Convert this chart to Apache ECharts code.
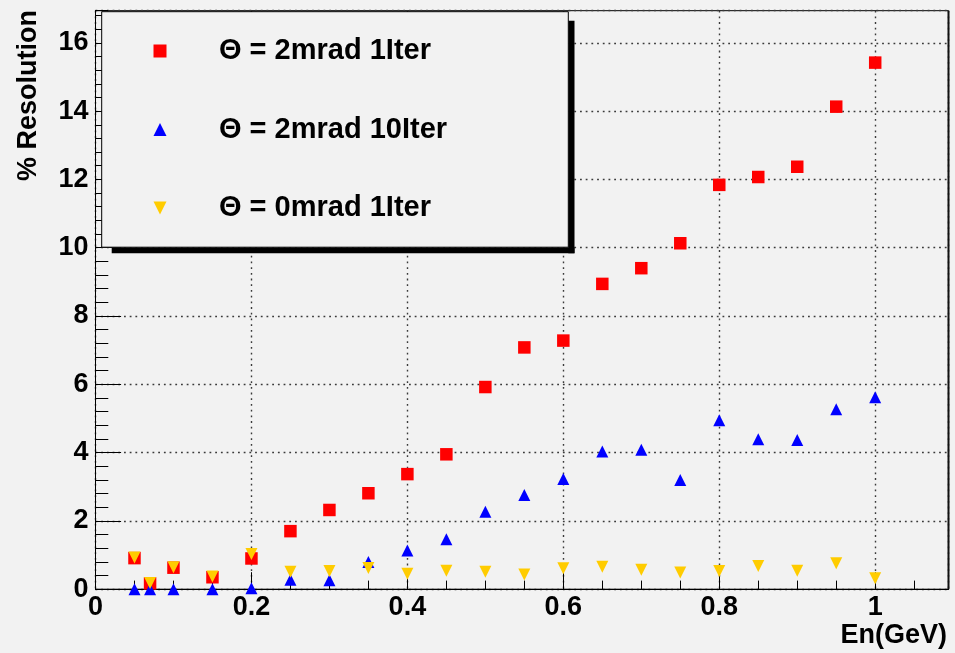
<!DOCTYPE html>
<html>
<head>
<meta charset="utf-8">
<script src="https://cdn.jsdelivr.net/npm/echarts@6/dist/echarts.min.js"></script>
<style>
  html, body { margin: 0; padding: 0; background: #f2f2f2; }
  #chart { width: 955px; height: 653px; }
</style>
</head>
<body>
<div id="chart"></div>
<script>
// Energy points (GeV)
const energies = [0.05, 0.07, 0.1, 0.15, 0.2, 0.25, 0.3, 0.35, 0.4, 0.45, 0.5,
                  0.55, 0.6, 0.65, 0.7, 0.75, 0.8, 0.85, 0.9, 0.95, 1.0];

// % resolution per configuration
const res2mrad1Iter  = [0.91, 0.17, 0.63, 0.35, 0.90, 1.70, 2.32, 2.81, 3.37, 3.95, 5.92,
                        7.08, 7.28, 8.94, 9.40, 10.13, 11.84, 12.07, 12.37, 14.13, 15.42];
const res2mrad10Iter = [0.00, 0.00, 0.00, 0.00, 0.03, 0.28, 0.26, 0.80, 1.13, 1.46, 2.27,
                        2.76, 3.23, 4.03, 4.08, 3.20, 4.95, 4.39, 4.37, 5.27, 5.62];
const res0mrad1Iter  = [0.93, 0.18, 0.64, 0.37, 1.03, 0.51, 0.53, 0.62, 0.45, 0.54, 0.51,
                        0.43, 0.61, 0.66, 0.57, 0.49, 0.53, 0.68, 0.54, 0.76, 0.32];

const seriesNames = ['\u0398 = 2mrad 1Iter', '\u0398 = 2mrad 10Iter', '\u0398 = 0mrad 1Iter'];

// Axis ranges and tick steps
const xRange = [0, 1.094];
const yRange = [0, 16.94];
const xMajor = 0.2, xMinor = 0.05;
const yMajor = 2, yMinor = 0.4;

const FONT = '"Liberation Sans", Arial, Helvetica, sans-serif';
const toPairs = ys => energies.map((x, i) => [x, ys[i]]);

// downward-pointing triangle used for the 0 mrad set
const DOWN_TRIANGLE = 'path://M0,0 L2,0 L1,2 Z';

const chart = echarts.init(document.getElementById('chart'), null, { renderer: 'canvas' });

const grid = { left: 95.5, right: 6.5, top: 10.7, bottom: 63.8 };
const plotRight = 955 - grid.right;
const plotBottom = 653 - grid.bottom;

const dotted = { color: '#3a3a3a', width: 1.4, type: [1.8, 3.9] };
const labelStyle = { color: '#000', fontFamily: FONT, fontWeight: 'bold', fontSize: 27 };

const option = {
  backgroundColor: '#f2f2f2',
  animation: false,
  grid: Object.assign({ show: true, borderColor: '#000', borderWidth: 1, backgroundColor: 'transparent' }, grid),
  xAxis: [
    {
      type: 'value', position: 'bottom', min: xRange[0], max: xRange[1], interval: xMajor,
      axisLine: { show: true, onZero: false, lineStyle: { color: '#000', width: 1 } },
      axisTick: { show: true, inside: true, length: 17, lineStyle: { color: '#000', width: 1 } },
      axisLabel: Object.assign({ margin: 5, showMaxLabel: false }, labelStyle),
      splitLine: { show: true, lineStyle: dotted }
    },
    {
      type: 'value', position: 'bottom', min: xRange[0], max: xRange[1], interval: xMinor,
      axisLine: { show: false, onZero: false },
      axisTick: { show: true, inside: true, length: 8.6, lineStyle: { color: '#000', width: 1 } },
      axisLabel: { show: false },
      splitLine: { show: false }
    }
  ],
  yAxis: [
    {
      type: 'value', position: 'left', min: yRange[0], max: yRange[1], interval: yMajor,
      axisLine: { show: true, onZero: false, lineStyle: { color: '#000', width: 1 } },
      axisTick: { show: true, inside: true, length: 25.6, lineStyle: { color: '#000', width: 1 } },
      axisLabel: Object.assign({ margin: 7, showMaxLabel: false }, labelStyle),
      splitLine: { show: true, lineStyle: dotted }
    },
    {
      type: 'value', position: 'left', min: yRange[0], max: yRange[1], interval: yMinor,
      axisLine: { show: false, onZero: false },
      axisTick: { show: true, inside: true, length: 12.8, lineStyle: { color: '#000', width: 1 } },
      axisLabel: { show: false },
      splitLine: { show: false }
    }
  ],
  legend: {
    show: true,
    data: [
      { name: seriesNames[0], icon: 'rect' },
      { name: seriesNames[1], icon: 'triangle' },
      { name: seriesNames[2], icon: DOWN_TRIANGLE }
    ],
    orient: 'vertical',
    left: 153.5,
    top: 36,
    padding: 0,
    itemWidth: 13,
    itemHeight: 13,
    itemGap: 48.5,
    selectedMode: false,
    z: 20,
    formatter: name => '{t|' + name + '}',
    textStyle: {
      color: '#000', fontFamily: FONT, fontWeight: 'bold', fontSize: 29, lineHeight: 30,
      rich: { t: { color: '#000', fontFamily: FONT, fontWeight: 'bold', fontSize: 29, lineHeight: 30, padding: [0, 0, 0, 47.5] } }
    }
  },
  graphic: [
    // legend pave with its solid drop shadow
    { type: 'rect', z: 10, shape: { x: 568.3, y: 20.7, width: 6.2, height: 232.6 }, style: { fill: '#000' } },
    { type: 'rect', z: 10, shape: { x: 111.7, y: 247.2, width: 462.8, height: 6.1 }, style: { fill: '#000' } },
    { type: 'rect', z: 11, shape: { x: 101.7, y: 11.7, width: 466.6, height: 235.5 },
      style: { fill: '#f2f2f2', stroke: '#000', lineWidth: 1 } },
    // heavier right edge of the frame
    { type: 'rect', z: 5, shape: { x: plotRight - 1, y: grid.top, width: 2, height: plotBottom - grid.top }, style: { fill: '#111' } },
    // axis titles
    { type: 'text', z: 12, x: 947, y: 636,
      style: { text: 'En(GeV)', fill: '#000', font: 'bold 27px ' + FONT, align: 'right', verticalAlign: 'middle' } },
    { type: 'text', z: 12, x: 29, y: 10, rotation: Math.PI / 2,
      style: { text: '% Resolution', fill: '#000', font: 'bold 27px ' + FONT, align: 'right', verticalAlign: 'middle' } }
  ],
  series: [
    {
      name: seriesNames[0], type: 'scatter', clip: false, z: 3,
      symbol: 'rect', symbolSize: 12.5,
      itemStyle: { color: '#ff0000', opacity: 1 },
      data: toPairs(res2mrad1Iter)
    },
    {
      name: seriesNames[1], type: 'scatter', clip: false, z: 4,
      symbol: 'triangle', symbolSize: [12, 12],
      itemStyle: { color: '#0000ff', opacity: 1 },
      data: toPairs(res2mrad10Iter)
    },
    {
      name: seriesNames[2], type: 'scatter', clip: false, z: 5,
      symbol: DOWN_TRIANGLE, symbolSize: [12, 12],
      itemStyle: { color: '#ffcc00', opacity: 1 },
      data: toPairs(res0mrad1Iter)
    }
  ]
};

chart.setOption(option);
</script>
</body>
</html>
